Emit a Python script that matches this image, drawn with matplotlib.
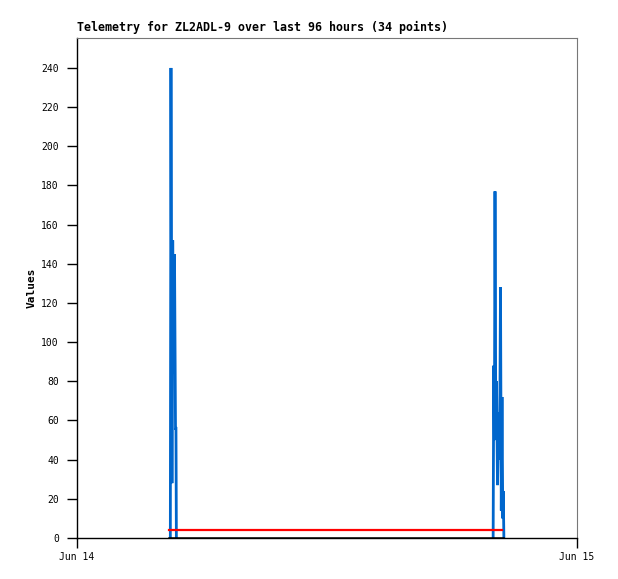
import matplotlib
matplotlib.use("Agg")
import matplotlib.pyplot as plt

# Data (hours since Jun 14 00:00)
blue1_t = [4.480, 4.510, 4.558, 4.594, 4.632, 4.680, 4.728, 4.750, 4.770]
blue1_v = [0, 240, 28, 152, 84, 145, 56, 56, 0]
blue2_t = [19.975, 20.006, 20.035, 20.064, 20.102, 20.136, 20.184, 20.246, 20.285,
           20.328, 20.366, 20.400, 20.438, 20.460, 20.490]
blue2_v = [0, 88, 50, 177, 60, 80, 27, 64, 40,
           128, 14, 72, 10, 24, 0]
red_t = [4.42, 20.40]
red_v = [4, 4]
black_t = [4.42, 20.47]
black_v = [0, 0]
xtick_pos = [0, 24]
xtick_labels = ["Jun 14", "Jun 15"]
yticks = list(range(0, 241, 20))

fig = plt.figure(figsize=(6.18, 5.79), dpi=100)
ax = fig.add_axes([77/618, 1-538/579, 500/618, 500/579])

for t, v in [(blue1_t, blue1_v), (blue2_t, blue2_v)]:
    ax.plot(t, v, color="#0066cc", lw=2.0, solid_joinstyle="miter")
ax.plot(red_t, red_v, color="#ff0000", lw=1.6)
ax.plot(black_t, black_v, color="#000000", lw=1.8)

ax.set_xlim(0, 24)
ax.set_ylim(0, 255.3)
ax.set_xticks(xtick_pos)
ax.set_xticklabels(xtick_labels)
ax.set_yticks(yticks)

mono = "DejaVu Sans Mono"
for lab in ax.get_xticklabels() + ax.get_yticklabels():
    lab.set_fontfamily(mono)
    lab.set_fontsize(7)
ax.tick_params(axis="y", direction="out", length=7, width=1, pad=6)
ax.tick_params(axis="x", direction="out", length=7, width=1, pad=3)

for s in ["top", "right"]:
    ax.spines[s].set_color("#777777")
    ax.spines[s].set_linewidth(0.8)
for s in ["left", "bottom"]:
    ax.spines[s].set_color("#000000")
    ax.spines[s].set_linewidth(1)

ax.set_ylabel("Values", fontfamily=mono, fontweight="bold", fontsize=8)
ax.yaxis.set_label_coords(-0.08, 0.5)
fig.text(77/618, 1-31/579, "Telemetry for ZL2ADL-9 over last 96 hours (34 points)",
         fontfamily=mono, fontweight="bold", fontsize=8.35, ha="left", va="baseline")

fig.savefig("out.png", dpi=100)
